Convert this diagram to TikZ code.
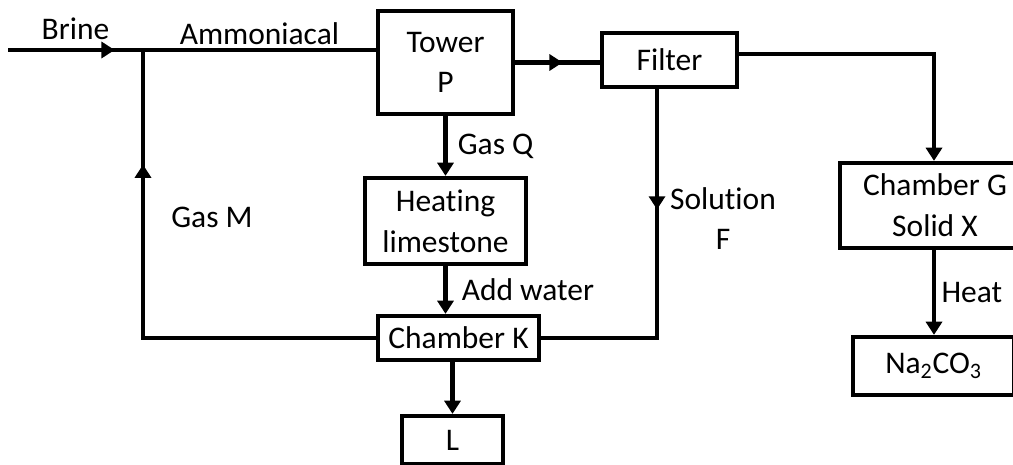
\documentclass[tikz,border=0pt]{standalone}
\usepackage{fontspec}
\setmainfont[Ligatures=NoCommon]{Carlito}
\usetikzlibrary{arrows.meta, positioning, calc, decorations.markings}

\begin{document}
\begin{tikzpicture}[
  font=\fontsize{22.4}{29}\selectfont,
  line width=3pt,
  >={Triangle[length=0.33cm, width=0.4cm]},
  box/.style={draw, rectangle, align=center, inner sep=0pt},
  lbl/.style={inner sep=1pt, align=center},
  midarrow/.style={postaction={decorate}, decoration={markings, mark=at position #1 with {\arrow{>}}}}
]
\useasboundingbox (0,0) rectangle (25.325,11.6);

\node[box, minimum width=3.375cm, minimum height=2.575cm] (tower) at (11.1375,10.0375) {Tower\\P};

\node[box, minimum width=3.375cm, minimum height=1.35cm] (filter) at (16.7375,10.1) {Filter};

\node[box, minimum width=4.025cm, minimum height=2.15cm] (heating) at (11.1375,6.075) {Heating\\limestone};

\node[box, minimum width=4.025cm, minimum height=1.1cm] (chamberK) at (11.4625,3.15) {Chamber K};

\node[box, minimum width=2.525cm, minimum height=1.2cm] (L) at (11.3125,0.6) {L};

\node[box, minimum width=4.75cm, minimum height=2.125cm] (chamberG) at (23.375,6.4625) {Chamber G\\Solid X};

\node[box, minimum width=4.025cm, minimum height=1.45cm] (soda) at (23.3375,2.45) {Na\textsubscript{2}CO\textsubscript{3}};

\coordinate (brine) at (0.2,10.35);
\coordinate (jn) at (3.575,10.35);
\coordinate (sol) at (16.425,3.15);
\coordinate (gx) at (23.35,4);

\draw[midarrow=0.79] (brine) -- node[lbl, above=0.16cm] {Brine} (jn);
\draw (jn) -- node[lbl, above=0.05cm] {Ammoniacal} (jn -| tower.west);
\draw[midarrow=0.56] (tower.east) -- (tower.east -| filter.west);
\draw[->] ([yshift=0.15cm]filter.east) -| (gx |- chamberG.north);

\draw[->] (tower) -- node[lbl, right=0.22cm] {Gas Q} (heating);
\draw[->] (heating) -- node[lbl, right=0.32cm] {Add water} (heating |- chamberK.north);
\draw[->] (L |- chamberK.south) -- (L);

\draw[midarrow=0.78] (chamberK.west) -- (jn |- chamberK.west) -- node[lbl, pos=0.42, right=0.62cm] {Gas M} (jn);
\draw[midarrow=0.33] (filter.south -| sol) -- node[lbl, pos=0.52, right=0.24cm] {Solution\\F} (sol) -- (chamberK.east);

\draw[->] (gx |- chamberG.south) -- node[lbl, right=0.1cm] {Heat} (gx |- soda.north);
\end{tikzpicture}
\end{document}
